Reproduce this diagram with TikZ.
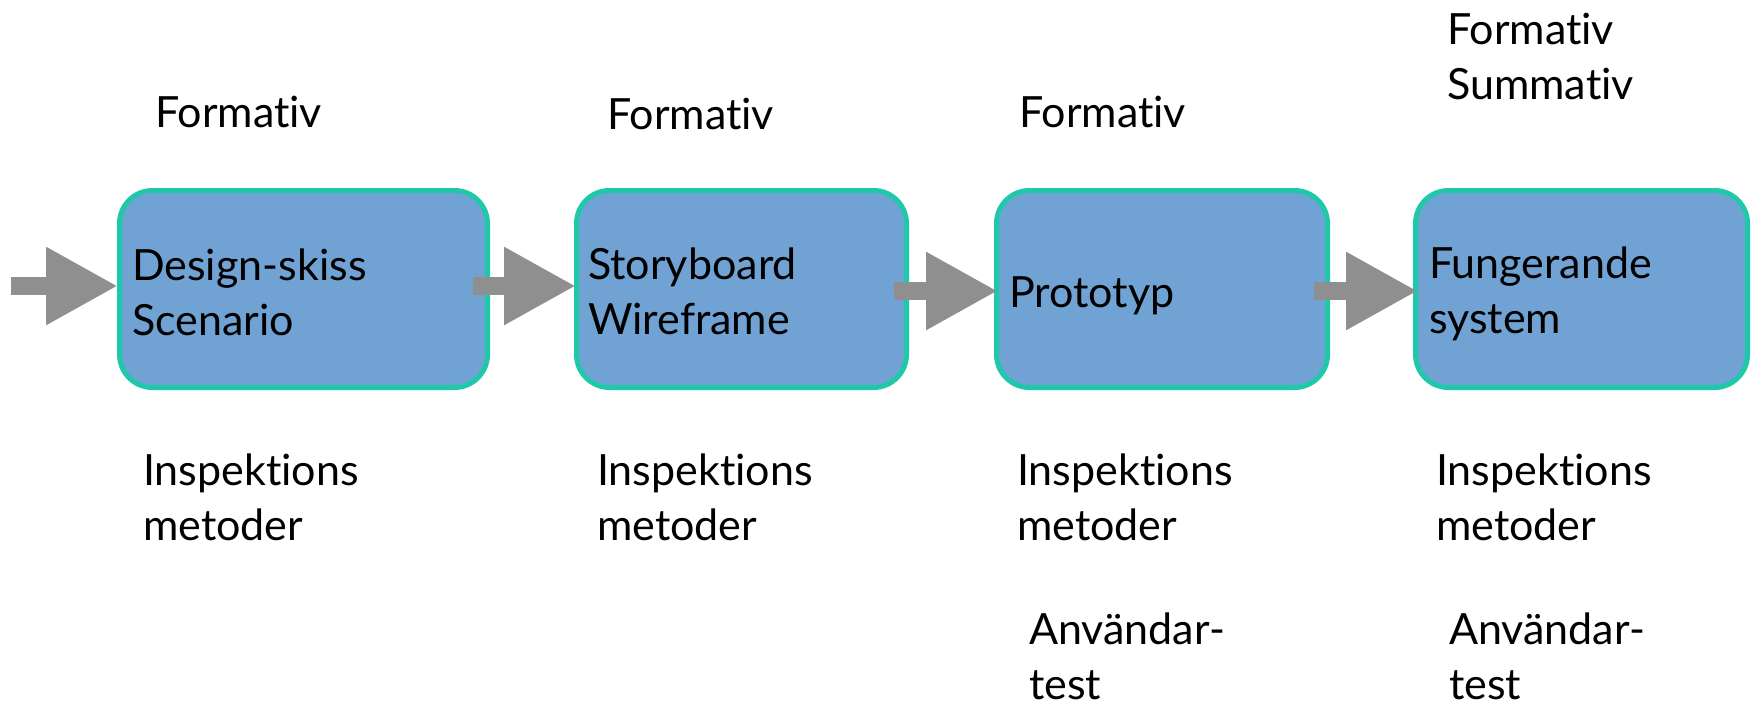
\documentclass[tikz,border=0pt]{standalone}
\usepackage{fontspec}
\setmainfont{Lato}[Ligatures={NoCommon}]
\usetikzlibrary{arrows.meta}
\definecolor{boxfill}{RGB}{113,162,212}
\definecolor{boxline}{RGB}{31,200,168}
\definecolor{arrowgray}{RGB}{143,143,143}
\begin{document}
\begin{tikzpicture}[x=1pt,y=-1pt,
  stage/.style={draw=boxline, line width=5pt, fill=boxfill, rounded corners=33pt, minimum height=197pt, inner sep=0pt},
  txt/.style={anchor=base west, inner sep=0pt, align=left, font=\fontsize{43pt}{55pt}\selectfont},
  flow/.style={draw=arrowgray, line width=18pt, -{Triangle[length=72pt,width=73pt]}}]
\useasboundingbox[fill=white] (0,0) rectangle (1754,706);
% stages
\node[stage, minimum width=368pt] (b1) at (303.5,289) {};
\node[stage, minimum width=330pt] (b2) at (741.5,289) {};
\node[stage, minimum width=331pt] (b3) at (1162,289) {};
\node[stage, minimum width=332pt] (b4) at (1581.5,289) {};
% texts in the boxes (base = last line)
\node[txt] (t1) at (132,335) {Design-skiss\\Scenario};
\node[txt] (t2) at (588,334) {Storyboard\\Wireframe};
\node[txt] (t3) at (1009,307) {Prototyp};
\node[txt] (t4) at (1429,333) {Fungerande\\system};
% arrows
\coordinate (start) at (11,286);
\draw[flow] (start) -- ([xshift=1pt,yshift=3pt]b1.west);
\draw[flow] ([xshift=-17pt,yshift=3pt]b1.east) -- ([xshift=2pt,yshift=3pt]b2.west);
\draw[flow] ([xshift=-15pt,yshift=-2pt]b2.east) -- ([xshift=4pt,yshift=-2pt]b3.west);
\draw[flow] ([xshift=-16pt,yshift=-2pt]b3.east) -- ([xshift=5pt,yshift=-2pt]b4.west);
% labels above
\node[txt] (f1) at (155,128) {Formativ};
\node[txt] (f2) at (607,130) {Formativ};
\node[txt] (f3) at (1019,128) {Formativ};
\node[txt] (f4) at (1447,100) {Formativ\\Summativ};
% labels below
\node[txt] (i1) at (143,540) {Inspektions\\metoder};
\node[txt] (i2) at (597,540) {Inspektions\\metoder};
\node[txt] (i3) at (1017,540) {Inspektions\\metoder};
\node[txt] (i4) at (1436,540) {Inspektions\\metoder};
\node[txt] (a3) at (1029,699) {Användar-\\test};
\node[txt] (a4) at (1449,699) {Användar-\\test};
\end{tikzpicture}
\end{document}
